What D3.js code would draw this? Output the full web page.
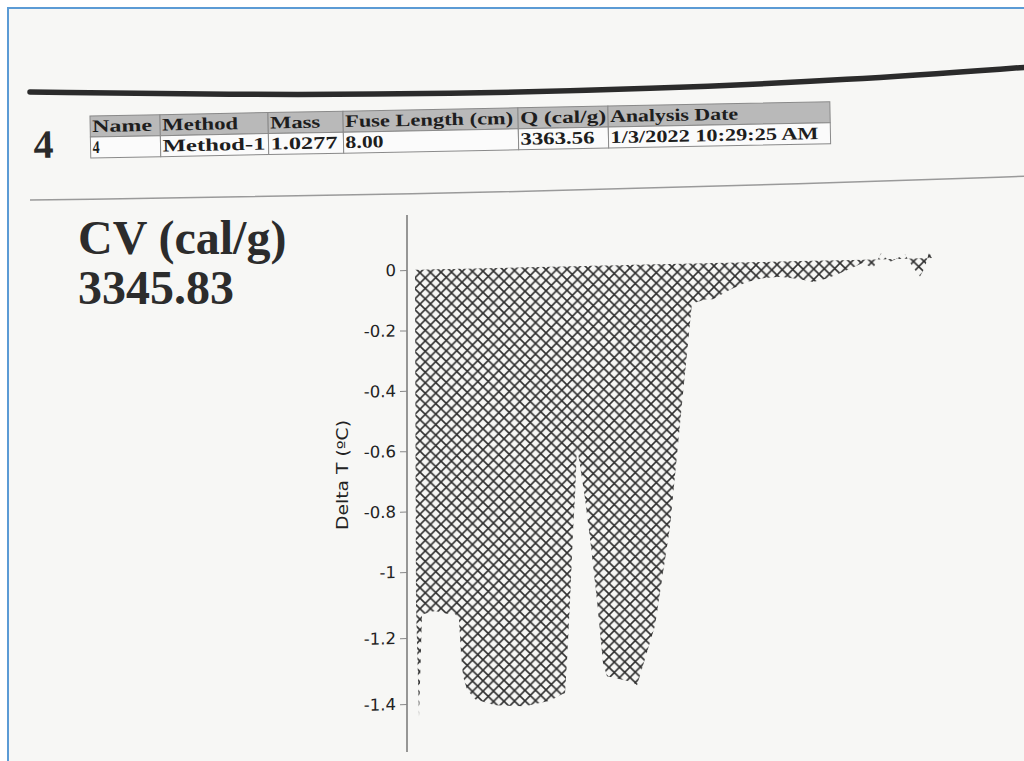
<!DOCTYPE html>
<html><head><meta charset="utf-8">
<script src="https://cdn.jsdelivr.net/npm/d3@7"></script>
<style>html,body{margin:0;padding:0;background:#fff;} svg{display:block}</style>
</head><body>
<svg id="c" width="1024" height="761"></svg>
<script>
// ---------- data ----------
const sampleName = "4";
const tableHeaders = ["Name", "Method", "Mass", "Fuse Length (cm)", "Q (cal/g)", "Analysis Date"];
const tableValues  = ["4", "Method-1", "1.0277", "8.00", "3363.56", "1/3/2022 10:29:25 AM"];
const cvLabel = "CV (cal/g)";
const cvValue = "3345.83";
const yLabel = "Delta T (ºC)";
const yTicks = [0, -0.2, -0.4, -0.6, -0.8, -1, -1.2, -1.4];
const yTickLabels = ["0", "-0.2", "-0.4", "-0.6", "-0.8", "-1", "-1.2", "-1.4"];
const sampleIndex = [0, 1, 4, 7, 20, 33, 40, 44, 46, 48, 52, 60, 80, 110, 135, 148, 150, 152, 155, 158, 160, 162, 165, 170, 176, 182, 188, 192, 205, 218, 222, 240, 255, 268, 277, 280, 290, 298, 315, 332, 350, 365, 385, 398, 412, 425, 438, 448, 458, 466, 475, 490, 498, 505, 510, 514, 517];
const deltaT = [0, -1.1, -1.44, -1.13, -1.12, -1.13, -1.13, -1.15, -1.25, -1.32, -1.36, -1.39, -1.41, -1.415, -1.4, -1.38, -1.38, -1.28, -1.1, -0.88, -0.76, -0.6, -0.66, -0.77, -0.93, -1.1, -1.29, -1.33, -1.34, -1.35, -1.36, -1.18, -0.87, -0.43, -0.13, -0.13, -0.12, -0.12, -0.09, -0.065, -0.053, -0.05, -0.06, -0.07, -0.06, -0.043, -0.025, -0.01, -0.03, 0.02, -0.01, 0.015, -0.03, -0.06, -0.03, 0.02, 0];

// ---------- layout ----------
const svg = d3.select("#c");
svg.append("rect").attr("width", 1024).attr("height", 761).attr("fill", "#ffffff");
svg.append("rect").attr("x", 8).attr("y", 8).attr("width", 1030).attr("height", 770).attr("fill", "#f7f7f5")
  .attr("stroke", "#5b9bd5").attr("stroke-width", 2);

// thick rule
svg.append("path")
  .attr("d", d3.line().curve(d3.curveBasis)([[30, 92], [250, 95], [450, 94], [650, 89], [850, 80], [1030, 67]]))
  .attr("fill", "none").attr("stroke", "#2b2b2b").attr("stroke-width", 5.5).attr("stroke-linecap", "round");
// thin divider
svg.append("path")
  .attr("d", d3.line().curve(d3.curveBasis)([[30, 200], [400, 195], [840, 183], [1030, 176]]))
  .attr("fill", "none").attr("stroke", "#9a9a9a").attr("stroke-width", 1.5);

// table
const colEdges = [90, 160, 268, 343, 518, 608, 830];
const headerWidths = [60, 76, 50, 168, 86, 128];
const valueWidths = [7, 103, 67, 38, 74, 208];
const rowTop = 116, rowH = 21;
const tg = svg.append("g").attr("transform", "rotate(-1.1,90,118)");
tg.append("text").attr("x", 33).attr("y", 157).text(sampleName)
  .attr("font-family", "Liberation Serif, serif").attr("font-weight", "bold").attr("font-size", 40).attr("fill", "#2a2a2a");
tableHeaders.forEach((h, i) => {
  const x0 = colEdges[i], x1 = colEdges[i + 1];
  tg.append("rect").attr("x", x0).attr("y", rowTop).attr("width", x1 - x0).attr("height", rowH)
    .attr("fill", "#b9b9b9").attr("stroke", "#8a8a8a").attr("stroke-width", 1);
  tg.append("rect").attr("x", x0).attr("y", rowTop + rowH).attr("width", x1 - x0).attr("height", rowH)
    .attr("fill", "#fbfbfb").attr("stroke", "#8a8a8a").attr("stroke-width", 1);
  tg.append("text").attr("x", x0 + 2).attr("y", rowTop + rowH - 5).text(h)
    .attr("font-family", "Liberation Serif, serif").attr("font-weight", "bold").attr("font-size", 17.5).attr("fill", "#1e1e1e")
    .attr("textLength", headerWidths[i]).attr("lengthAdjust", "spacingAndGlyphs");
  tg.append("text").attr("x", x0 + 2).attr("y", rowTop + 2 * rowH - 5).text(tableValues[i])
    .attr("font-family", "Liberation Serif, serif").attr("font-weight", "bold").attr("font-size", 17.5).attr("fill", "#1e1e1e")
    .attr("textLength", valueWidths[i]).attr("lengthAdjust", "spacingAndGlyphs");
});

// CV text
svg.append("text").attr("x", 78).attr("y", 254).text(cvLabel)
  .attr("font-family", "Liberation Serif, serif").attr("font-weight", "bold").attr("font-size", 48).attr("fill", "#2c2c2c");
svg.append("text").attr("x", 78).attr("y", 304).text(cvValue)
  .attr("font-family", "Liberation Serif, serif").attr("font-weight", "bold").attr("font-size", 48).attr("fill", "#2c2c2c");

// plot
const defs = svg.append("defs");
const pat = defs.append("pattern").attr("id", "hatch").attr("patternUnits", "userSpaceOnUse")
  .attr("width", 10.5).attr("height", 10.5);
pat.append("path").attr("d", "M-2,-2L12.5,12.5M-2,12.5L12.5,-2")
  .attr("stroke", "#2f2f2f").attr("stroke-width", 1.6).attr("fill", "none");

const axisX = 407;
const pg = svg.append("g").attr("transform", `translate(${axisX},270) skewY(-1.3) translate(${-axisX},-270)`);
const x = d3.scaleLinear().domain([0, 520]).range([415, 935]);
const y = d3.scaleLinear().domain([0, -1, -1.4]).range([270, 572, 704]);
const data = sampleIndex.map((t, i) => ({t, v: deltaT[i]}));

pg.append("path").datum(data)
  .attr("d", d3.area().x(d => x(d.t)).y0(y(0)).y1(d => y(d.v)))
  .attr("fill", "url(#hatch)");

const yAxis = d3.axisLeft(y).tickValues(yTicks).tickFormat((d, i) => yTickLabels[i]).tickSize(7).tickPadding(4);
const ag = pg.append("g").attr("transform", `translate(${axisX},0)`).call(yAxis);
ag.select(".domain").attr("d", `M0,215V752`).attr("stroke", "#555").attr("stroke-width", 1.2);
ag.selectAll(".tick line").attr("stroke", "#888");
ag.selectAll(".tick text").attr("font-family", "DejaVu Sans, sans-serif").attr("font-size", 16.5).attr("fill", "#222");

svg.append("text").attr("transform", "translate(348,475) rotate(-90)").attr("text-anchor", "middle")
  .text(yLabel).attr("font-family", "DejaVu Sans, sans-serif").attr("font-size", 16).attr("fill", "#222")
  .attr("textLength", 110).attr("lengthAdjust", "spacingAndGlyphs");
</script>
</body></html>
